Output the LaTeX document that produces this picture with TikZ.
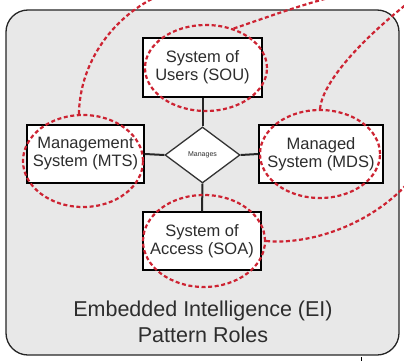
\documentclass[tikz,border=0pt]{standalone}
\usepackage{fontspec}
\setmainfont{Liberation Sans}
\usetikzlibrary{shapes.geometric}
\definecolor{redd}{RGB}{205,35,50}
\definecolor{bgray}{RGB}{232,232,232}
\definecolor{txt}{RGB}{45,45,45}
\tikzset{
  rolebox/.style={draw=black, line width=1.3pt, fill=white, rectangle, inner sep=0pt,
    align=center, text=txt, font=\fontsize{16.5}{18}\selectfont},
  relbox/.style={draw=black!80, line width=1.3pt, fill=white, diamond, inner sep=0pt,
    minimum width=75pt, minimum height=56pt, text=txt, font=\fontsize{7}{8}\selectfont},
  link/.style={line width=2pt, black!85},
  ring/.style={draw=redd, ellipse, line width=2.2pt, dash pattern=on 4pt off 2.6pt, inner sep=0pt},
  redline/.style={draw=redd, line width=2.2pt, dash pattern=on 4pt off 2.6pt},
}
\begin{document}
\begin{tikzpicture}[x=1pt,y=-1pt]
\useasboundingbox (0,0) rectangle (404,361);
\clip (0,0) rectangle (404,361);
\fill[white] (0,0) rectangle (404,361);
\node[draw=black!85, line width=1.3pt, fill=bgray, rounded corners=22pt, rectangle,
  minimum width=393pt, minimum height=345pt, inner sep=0pt] (frame) at (202.5,182.5) {};
\node[rolebox, minimum width=119pt, minimum height=59pt] (sou) at (202.5,67.5) {System of\\Users (SOU)};
\node[rolebox, minimum width=117pt, minimum height=58pt] (mts) at (85.5,154) {Management\\System (MTS)};
\node[rolebox, minimum width=124pt, minimum height=58pt] (mds) at (321,154) {Managed\\System (MDS)};
\node[rolebox, minimum width=118pt, minimum height=58pt] (soa) at (202,241) {System of\\Access (SOA)};
\node[relbox] (mng) at (202.5,155) {Manages};
\draw[link] (sou.south) -- (mng.north);
\draw[link] (mng.west) -- (mts.east);
\draw[link] (mng.east) -- (mds.west);
\draw[link] (mng.south) -- (soa.north);
\node[text=txt, align=center, font=\fontsize{21.5}{26}\selectfont] (title) at (203,322) {Embedded Intelligence (EI)\\Pattern Roles};
\node[ring, minimum width=122pt, minimum height=86pt] (esou) at (206,68) {};
\node[ring, minimum width=120pt, minimum height=92pt] (emts) at (83,161) {};
\node[ring, minimum width=120pt, minimum height=88pt] (emds) at (320,154) {};
\node[ring, minimum width=122pt, minimum height=92pt] (esoa) at (204,241) {};
\coordinate (c1) at (160,-5);
\coordinate (c2) at (336,-4);
\coordinate (c3) at (408,3);
\coordinate (c4) at (408,183);
\draw[redline] (emts.95) .. controls (80,60) and (115,15) .. (c1);
\draw[redline] (esou.55) .. controls (265,18) and (300,5) .. (c2);
\draw[redline] (emds.north) .. controls (322,85) and (355,45) .. (c3);
\draw[redline] (esoa.east) .. controls (310,245) and (370,225) .. (c4);
\coordinate (t1) at (361,357);
\coordinate (t2) at (361,362);
\draw[line width=1pt, black] (t1) -- (t2);
\end{tikzpicture}
\end{document}
